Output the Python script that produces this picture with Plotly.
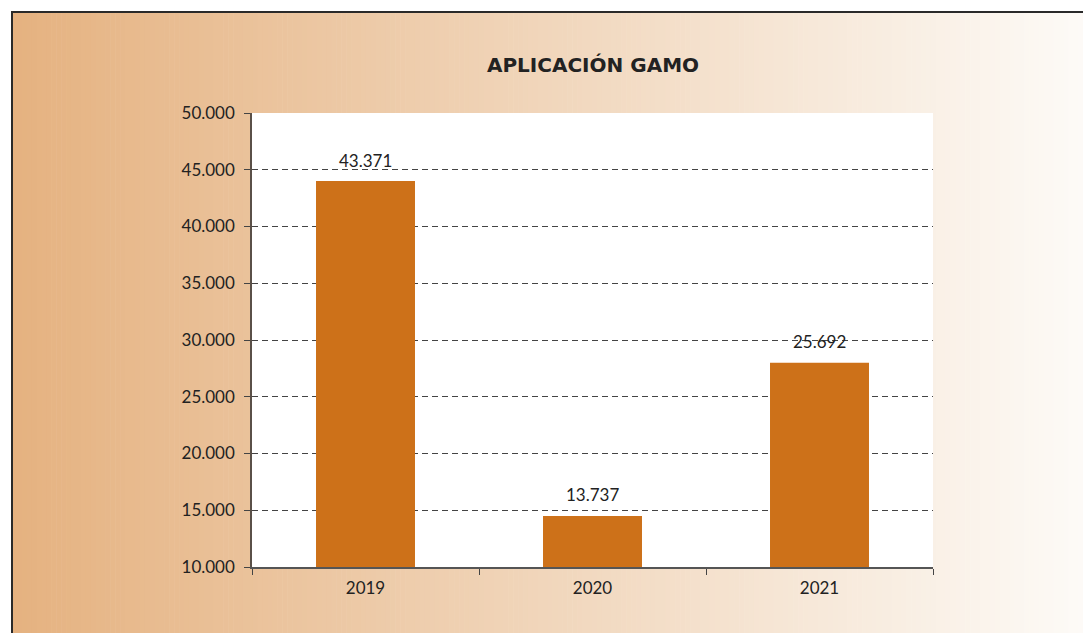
import plotly.graph_objects as go

# ---- data ----
years = ["2019", "2020", "2021"]
bar_heights = [44000, 14500, 28000]            # bar heights as drawn in the picture
value_labels = ["43.371", "13.737", "25.692"]  # printed labels
title_text = "APLICACIÓN GAMO"

BAR_COLOR = "#CD7119"
FONT = "Lato, 'Open Sans', sans-serif"
TXT = "#222222"

# screenshot frame (page body has an 8px margin)
OFF = 8
SW, SH = 1091, 633
W, H = SW - OFF, SH - OFF
PL, PR, PT, PB = 252, 933, 113, 567            # plot area in screenshot px
ML, MR, MT, MB = PL - OFF, SW - PR, PT - OFF, SH - PB

fig = go.Figure()
fig.add_trace(go.Bar(
    x=years, y=bar_heights, marker=dict(color=BAR_COLOR, line=dict(width=0)),
    hoverinfo="skip", showlegend=False,
))

for i, (h, lab) in enumerate(zip(bar_heights, value_labels)):
    fig.add_annotation(x=i, y=h, text=lab, showarrow=False, xref="x", yref="y",
                       yanchor="middle", yshift=21,
                       font=dict(family=FONT, size=17, color=TXT))

# ---- gradient background via strips (paper coordinates) ----
pw, ph = PR - PL, PB - PT
def px2x(px):
    return (px - PL) / pw
def py2y(py):
    return (PB - py) / ph

c0 = (229, 178, 128)
c1 = (253, 251, 248)
x_start, x_end = 12, SW + 2
n = 220
shapes = []
for i in range(n):
    a = x_start + (x_end - x_start) * i / n
    b = x_start + (x_end - x_start) * (i + 1) / n + 0.6
    t = (i + 0.5) / n
    col = tuple(round(c0[k] + (c1[k] - c0[k]) * t) for k in range(3))
    shapes.append(dict(type="rect", xref="paper", yref="paper", layer="below",
                       x0=px2x(a), x1=px2x(b), y0=py2y(SH + 2), y1=py2y(12),
                       fillcolor="rgb(%d,%d,%d)" % col, line=dict(width=0)))
shapes.append(dict(type="rect", xref="paper", yref="paper", layer="below",
                   x0=0, x1=1, y0=0, y1=1, fillcolor="white", line=dict(width=0)))
shapes.append(dict(type="line", xref="paper", yref="paper", layer="above",
                   x0=px2x(11), x1=px2x(SW + 2), y0=py2y(12), y1=py2y(12),
                   line=dict(color="#2a2a2a", width=2)))
shapes.append(dict(type="line", xref="paper", yref="paper", layer="above",
                   x0=px2x(12), x1=px2x(12), y0=py2y(12), y1=py2y(SH + 2),
                   line=dict(color="#2a2a2a", width=2)))

fig.update_layout(
    width=W, height=H,
    margin=dict(l=ML, r=MR, t=MT, b=MB, autoexpand=False),
    paper_bgcolor="white", plot_bgcolor="white",
    separators=",.",
    bargap=0.564,
    shapes=shapes,
    title=dict(text="<b>%s</b>" % title_text, x=px2x(593), xref="paper", xanchor="center",
               y=1 - (65 - OFF) / H, yanchor="middle",
               font=dict(family="'DejaVu Sans', sans-serif", size=20, color=TXT)),
    font=dict(family=FONT, size=17, color=TXT),
)
fig.update_xaxes(type="category", range=[-0.5, 2.5], tickson="boundaries",
                 ticks="outside", ticklen=6, ticklabelstandoff=5,
                 tickcolor="#444444", showline=True, linecolor="#555555", linewidth=1.5,
                 showgrid=False, tickfont=dict(family=FONT, size=17, color=TXT))
fig.update_yaxes(range=[10000, 50000], dtick=5000, tickformat=",d",
                 ticks="outside", ticklen=6, tickcolor="#444444",
                 showline=True, linecolor="#5a5048", linewidth=1.5,
                 showgrid=True, gridcolor="#444444", gridwidth=1.2, griddash="6px,4px",
                 zeroline=False, ticklabelstandoff=6,
                 tickfont=dict(family=FONT, size=17, color=TXT))

fig.write_html("out.html")
